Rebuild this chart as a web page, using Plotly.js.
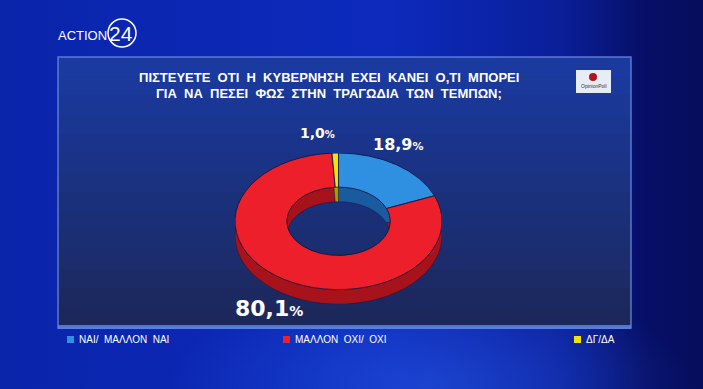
<!DOCTYPE html>
<html><head><meta charset="utf-8">
<script src="https://cdn.plot.ly/plotly-3.0.1.min.js"></script>
<style>
html,body{margin:0;padding:0;width:703px;height:389px;overflow:hidden;}
body{background:
 radial-gradient(ellipse 260px 110px at 430px 385px, rgba(40,90,230,0.55), rgba(0,0,0,0)),
 linear-gradient(90deg,#0a24aa 0%,#0c2abc 55%,#0a1e98 80%,#060f66 92%,#050d5c 100%);}
#main{position:absolute;left:0;top:0;width:703px;height:389px;}
#pie{position:absolute;left:235px;top:153px;width:207px;height:229px;transform:scaleY(0.66);transform-origin:0 0;}
</style></head>
<body>
<div id="main"></div>
<div id="pie"></div>
<script>
// ---- data ----
const categories = ["ΝΑΙ/ ΜΑΛΛΟΝ ΝΑΙ", "ΜΑΛΛΟΝ ΟΧΙ/ ΟΧΙ", "ΔΓ/ΔΑ"];
const values = [18.9, 80.1, 1.0];
const titleLines = ["ΠΙΣΤΕΥΕΤΕ ΟΤΙ Η ΚΥΒΕΡΝΗΣΗ ΕΧΕΙ ΚΑΝΕΙ Ο,ΤΙ ΜΠΟΡΕΙ", "ΓΙΑ ΝΑ ΠΕΣΕΙ ΦΩΣ ΣΤΗΝ ΤΡΑΓΩΔΙΑ ΤΩΝ ΤΕΜΠΩΝ;"];
const topColors = ["#2f8fe0", "#ec1f2a", "#f2e20c"];
const sideColors = ["#1a5a9e", "#a8121a", "#a89a00"];

const fmt = v => v.toFixed(1).replace('.', ',');
const W = 703, H = 389;
const px = x => x / W, py = y => 1 - y / H;

// ---- donut (pseudo 3D) ----
const pieBase = {type:'pie', values:values, labels:categories, sort:false, direction:'clockwise',
  rotation:0, hole:0.5, textinfo:'none', hoverinfo:'label+value', showlegend:false};
Plotly.newPlot('pie', [
  Object.assign({}, pieBase, {domain:{x:[0,1], y:[0, 207/229]}, marker:{colors:sideColors, line:{color:'#0a1440', width:0.5}}}),
  Object.assign({}, pieBase, {domain:{x:[0,1], y:[22/229, 1]}, marker:{colors:topColors, line:{color:'#0a1440', width:1}}})
], {width:207, height:229, margin:{l:0,r:0,t:0,b:0}, paper_bgcolor:'rgba(0,0,0,0)', plot_bgcolor:'rgba(0,0,0,0)'},
 {displayModeBar:false, staticPlot:true});

// ---- frame, title, labels, legend ----
const shapes = [];
// panel with vertical gradient bands (slightly overlapping to avoid seams)
const bandTop = [26, 58, 160], bandBot = [28, 40, 92];
const nb = 14, y0p = 57, y1p = 327;
for (let i = 0; i < nb; i++) {
  const t = i / (nb - 1);
  const c = bandTop.map((a, k) => Math.round(a + (bandBot[k] - a) * t));
  shapes.push({type:'rect', xref:'paper', yref:'paper', x0:px(58), x1:px(631),
    y0:py(Math.min(y1p, y0p + (y1p - y0p) * (i + 1) / nb + 1.5)), y1:py(y0p + (y1p - y0p) * i / nb),
    fillcolor:'rgb(' + c.join(',') + ')', line:{width:0}, layer:'below'});
}
shapes.push(
  {type:'rect', xref:'paper', yref:'paper', x0:px(58), x1:px(631), y0:py(328), y1:py(57),
   fillcolor:'rgba(0,0,0,0)', line:{color:'rgba(110,140,230,0.8)', width:1.5}, layer:'below'},
  {type:'rect', xref:'paper', yref:'paper', x0:px(58), x1:px(631), y0:py(329), y1:py(325),
   fillcolor:'rgba(90,130,230,0.85)', line:{width:0}, layer:'below'},
  // opinion poll logo
  {type:'rect', xref:'paper', yref:'paper', x0:px(576), x1:px(611), y0:py(93), y1:py(70),
   fillcolor:'#e8ecf5', line:{width:0}},
  {type:'circle', xref:'paper', yref:'paper', x0:px(589), x1:px(597), y0:py(81), y1:py(73),
   fillcolor:'#b0141c', line:{width:0}},
  // action24 ring
  {type:'circle', xref:'paper', yref:'paper', x0:px(108), x1:px(136), y0:py(47), y1:py(19),
   fillcolor:'rgba(0,0,0,0)', line:{color:'#ffffff', width:1.5}}
);
const annotations = [];
const A = (x, y, text, opts) => annotations.push(Object.assign({xref:'paper', yref:'paper', x:px(x), y:py(y),
  xanchor:'center', yanchor:'middle',
  text:text, showarrow:false, font:{color:'#ffffff', family:'Liberation Sans, Arial, sans-serif', size:12}}, opts||{}));

// logo text
A(82, 35, 'ACTION', {font:{color:'#ffffff', family:'Liberation Sans, sans-serif', size:13}});
A(121, 34, '24', {font:{color:'#ffffff', family:'Liberation Sans, sans-serif', size:21}});
A(594, 86, 'OpinionPoll', {font:{color:'#333333', family:'Liberation Sans, sans-serif', size:5}});

// title
titleLines.forEach((t, i) => A(329, 77 + i * 17, '<b>' + t.split(' ').join('  ') + '</b>',
  {font:{color:'#ffffff', family:'Liberation Sans, Arial, sans-serif', size:13}}));

// percentage labels
const labelPos = [[398, 144, 16, 11], [269, 308, 22, 14], [317, 133, 14, 10]];
values.forEach((v, i) => {
  const [x, y, s, s2] = labelPos[i];
  A(x, y, '<b>' + fmt(v) + '<span style="font-size:' + s2 + 'px">%</span></b>',
    {font:{color:'#ffffff', family:'DejaVu Sans, Verdana, sans-serif', size:s}});
});

// legend
const legPos = [67, 283, 574];
categories.forEach((c, i) => {
  shapes.push({type:'rect', xref:'paper', yref:'paper', x0:px(legPos[i]), x1:px(legPos[i] + 7),
    y0:py(343), y1:py(336), fillcolor:topColors[i], line:{width:0}});
  A(legPos[i] + 10, 339.5, c.split(' ').join('  '), {xanchor:'left',
    font:{color:'#ffffff', family:'Liberation Sans Narrow, Liberation Sans, sans-serif', size:10}});
});

Plotly.newPlot('main', [], {width:W, height:H, margin:{l:0,r:0,t:0,b:0},
  paper_bgcolor:'rgba(0,0,0,0)', plot_bgcolor:'rgba(0,0,0,0)',
  xaxis:{visible:false}, yaxis:{visible:false}, shapes:shapes, annotations:annotations},
  {displayModeBar:false, staticPlot:true});
</script>
</body></html>
